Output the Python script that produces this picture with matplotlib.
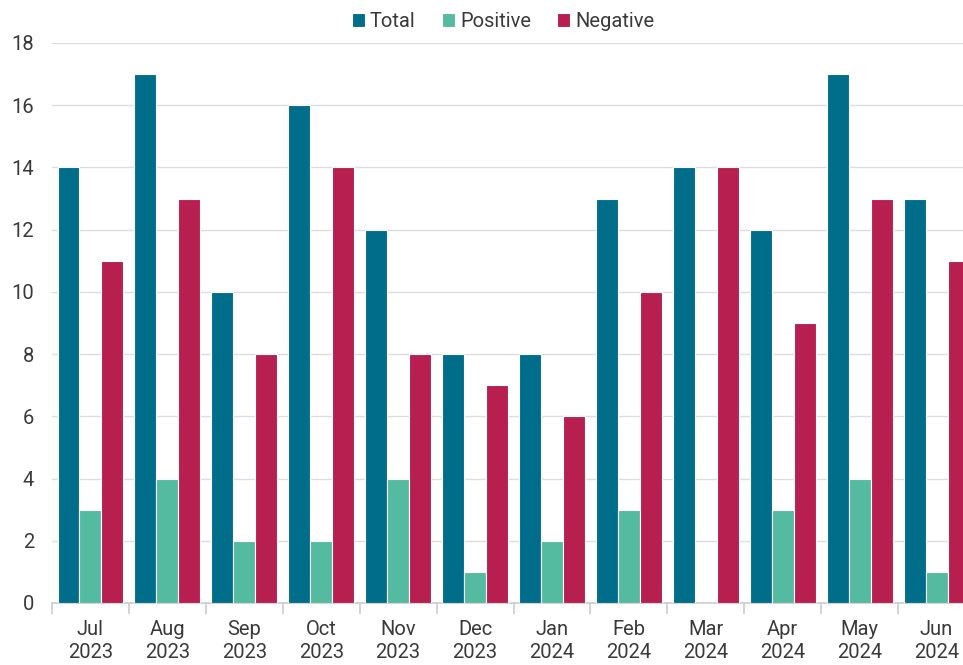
import numpy as np
from matplotlib import pyplot as plt

months = ["Jul\n2023", "Aug\n2023", "Sep\n2023", "Oct\n2023", "Nov\n2023", "Dec\n2023",
          "Jan\n2024", "Feb\n2024", "Mar\n2024", "Apr\n2024", "May\n2024", "Jun\n2024"]
total = [14, 17, 10, 16, 12, 8, 8, 13, 14, 12, 17, 13]
positive = [3, 4, 2, 2, 4, 1, 2, 3, 0, 3, 4, 1]
negative = [11, 13, 8, 14, 8, 7, 6, 10, 14, 9, 13, 11]

plt.rcParams['font.family'] = ['Roboto', 'DejaVu Sans']

fig = plt.figure(figsize=(9.63, 6.65), dpi=100)
# right end of the chart is clipped in the reference
ax = fig.add_axes([52 / 963, 1 - 603 / 665, 923 / 963, (603 - 43) / 665])

x = np.arange(len(months))
w = 0.285
series = [(total, "Total", "#006d8a"), (positive, "Positive", "#54bba0"),
          (negative, "Negative", "#b81f51")]
for k, (vals, name, col) in enumerate(series):
    ax.bar(x + (k - 1) * w, vals, w, color=col, edgecolor="white", linewidth=0.8,
           label=name, zorder=3)

ax.set_xlim(-0.5, len(months) - 0.5)
ax.set_ylim(0, 18)
ax.set_yticks(range(0, 19, 2))
ax.yaxis.grid(True, color="#dddddd", linewidth=1, zorder=0)
ax.tick_params(axis="y", length=0, pad=13, labelsize=14.5, labelcolor="#3a3a3a")

ax.set_xticks(x)
ax.set_xticklabels(months, linespacing=1.3)
ax.set_xticks(np.arange(len(months) + 1) - 0.5, minor=True)
ax.tick_params(axis="x", which="major", length=0, pad=12, labelsize=14.5,
               labelcolor="#3a3a3a")
ax.tick_params(axis="x", which="minor", length=8, color="#cccccc", width=1.2)

for s in ["top", "right", "left"]:
    ax.spines[s].set_visible(False)
ax.spines["bottom"].set_color("#cccccc")
ax.spines["bottom"].set_linewidth(1.2)

fig.legend(loc="upper center", bbox_to_anchor=(503 / 963, 1.009), ncol=3, frameon=False,
           fontsize=14.5, handlelength=0.65, handleheight=0.65, handletextpad=0.25,
           columnspacing=1.3, labelcolor="#3a3a3a")

fig.savefig("out.png", dpi=100)
